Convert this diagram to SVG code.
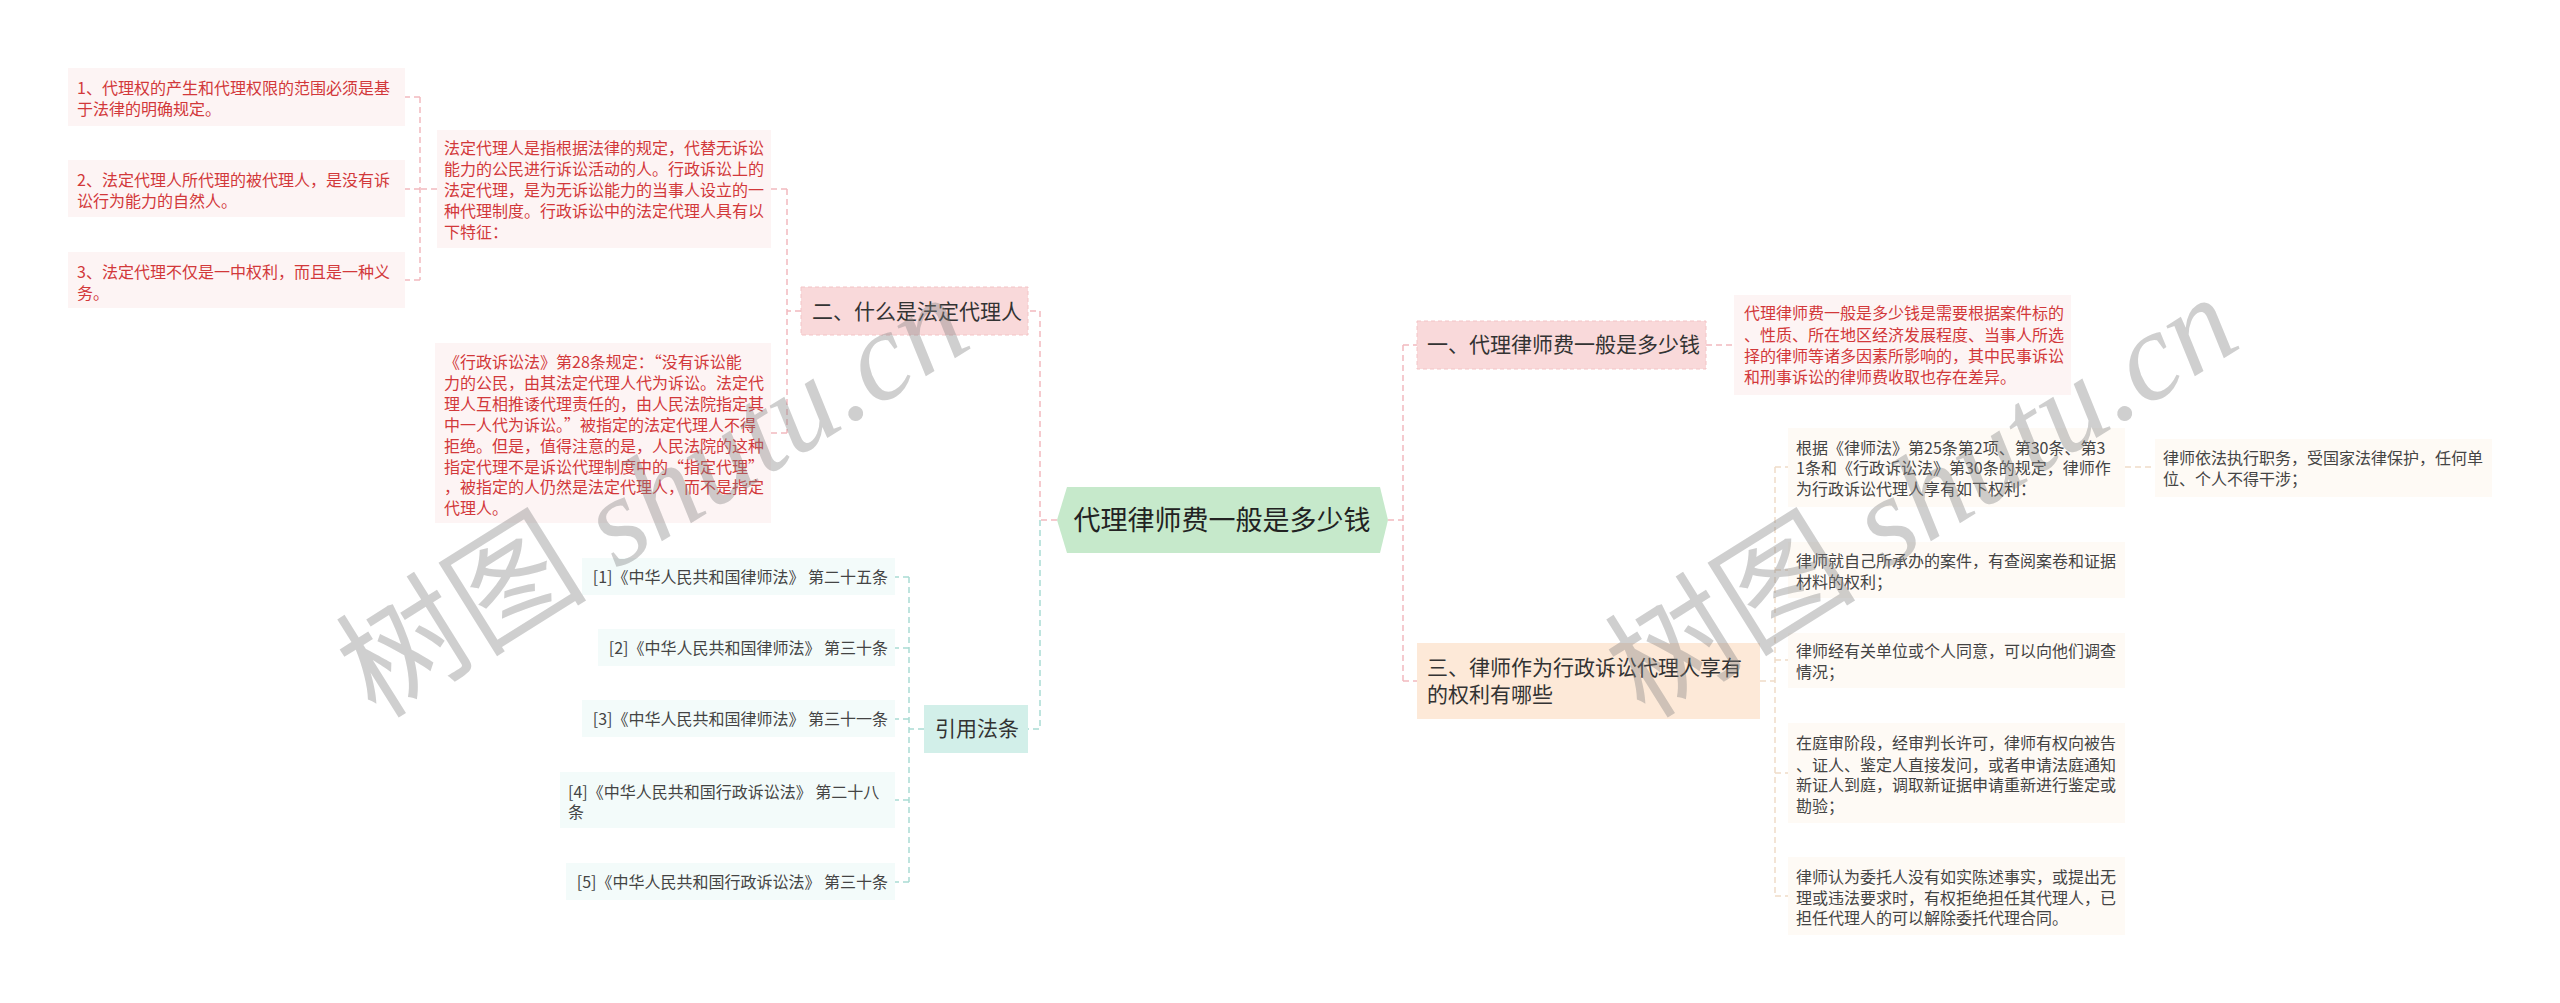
<svg xmlns="http://www.w3.org/2000/svg" width="2560" height="1003" viewBox="0 0 2560 1003">
<style>
text{font-family:"Noto Sans CJK SC","Noto Sans",sans-serif;}
.t16{font-size:16px;}
.t21{font-size:21px;fill:#333;}
.red{fill:#d2383a;}
.dark{fill:#444;}
.pinkbox{fill:#fdf4f4;}
.tealbox{fill:#f3fbfa;}
.peachbox{fill:#fefaf5;}
.pinkmain{fill:#f9d9da;stroke:#f3c4c6;stroke-width:1;stroke-dasharray:4 3;}
.c{fill:none;stroke-width:1.5;stroke-dasharray:6 4;}
.cp{stroke:#f2b9bf;}
.ct{stroke:#a9dcd3;}
.co{stroke:#efdcc8;}
.wm{font-family:"Liberation Serif","Noto Sans CJK SC",serif;font-size:126px;fill:#808080;fill-opacity:0.38;}
</style>

<g id="connectors">
  <path class="c cp" d="M1057,520 H1040 V311 H1028"/>
  <path class="c ct" d="M1040,520 V729 H1028"/>
  <path class="c cp" d="M1388,520 H1403 M1403,345 V681 M1403,345 H1417 M1403,681 H1417"/>
  <path class="c cp" d="M1706,345 H1734"/>
  <path class="c cp" d="M801,311 H787 M787,189 V433 M787,189 H771 M787,433 H771"/>
  <path class="c cp" d="M437,189 H420 M420,97 V280 M420,97 H405 M420,189 H405 M420,280 H405"/>
  <path class="c ct" d="M924,729 H909 M909,577 V882 M909,577 H895 M909,648 H895 M909,719 H895 M909,800 H895 M909,882 H895"/>
  <path class="c co" d="M1760,681 H1775 M1775,467 V896 M1775,467 H1788 M1775,570 H1788 M1775,660 H1788 M1775,773 H1788 M1775,896 H1788"/>
  <path class="c co" d="M2125,467 H2155"/>
</g>

<g id="root">
  <polygon points="1067,487 1380,487 1388,520 1380,553 1067,553 1057,520" fill="#c6e9cb"/>
  <text x="1222" y="530" text-anchor="middle" font-size="27" fill="#222">代理律师费一般是多少钱</text>
</g>

<g id="n-er">
  <rect class="pinkmain" x="801" y="287" width="227" height="48"/>
  <text class="t21" x="812" y="319">二、什么是法定代理人</text>
</g>

<g id="n-fading">
  <rect class="pinkbox" x="437" y="130" width="334" height="118"/>
  <text class="t16 red"><tspan x="444" y="154">法定代理人是指根据法律的规定，代替无诉讼</tspan><tspan x="444" y="175">能力的公民进行诉讼活动的人。行政诉讼上的</tspan><tspan x="444" y="196">法定代理，是为无诉讼能力的当事人设立的一</tspan><tspan x="444" y="217">种代理制度。行政诉讼中的法定代理人具有以</tspan><tspan x="444" y="238">下特征：</tspan></text>
</g>

<g id="n-1">
  <rect class="pinkbox" x="68" y="68" width="337" height="58"/>
  <text class="t16 red"><tspan x="77" y="94">1、代理权的产生和代理权限的范围必须是基</tspan><tspan x="77" y="115">于法律的明确规定。</tspan></text>
</g>
<g id="n-2">
  <rect class="pinkbox" x="68" y="160" width="337" height="57"/>
  <text class="t16 red"><tspan x="77" y="186">2、法定代理人所代理的被代理人，是没有诉</tspan><tspan x="77" y="207">讼行为能力的自然人。</tspan></text>
</g>
<g id="n-3">
  <rect class="pinkbox" x="68" y="252" width="337" height="56"/>
  <text class="t16 red"><tspan x="77" y="278">3、法定代理不仅是一中权利，而且是一种义</tspan><tspan x="77" y="299">务。</tspan></text>
</g>

<g id="n-xingzheng">
  <rect class="pinkbox" x="435" y="343" width="336" height="180"/>
  <text class="t16 red"><tspan x="444" y="368">《行政诉讼法》第28条规定：“没有诉讼能</tspan><tspan x="444" y="389">力的公民，由其法定代理人代为诉讼。法定代</tspan><tspan x="444" y="410">理人互相推诿代理责任的，由人民法院指定其</tspan><tspan x="444" y="431">中一人代为诉讼。”被指定的法定代理人不得</tspan><tspan x="444" y="452">拒绝。但是，值得注意的是，人民法院的这种</tspan><tspan x="444" y="473">指定代理不是诉讼代理制度中的“指定代理”</tspan><tspan x="444" y="493">，被指定的人仍然是法定代理人，而不是指定</tspan><tspan x="444" y="514">代理人。</tspan></text>
</g>

<g id="n-yinyong">
  <rect x="924" y="705" width="104" height="48" fill="#d2efe9"/>
  <text class="t21" x="935" y="736">引用法条</text>
</g>
<g id="n-r1">
  <rect class="tealbox" x="582" y="558" width="313" height="37"/>
  <text class="t16 dark" x="888" y="583" text-anchor="end">[1]《中华人民共和国律师法》 第二十五条</text>
</g>
<g id="n-r2">
  <rect class="tealbox" x="598" y="629" width="297" height="37"/>
  <text class="t16 dark" x="888" y="654" text-anchor="end">[2]《中华人民共和国律师法》 第三十条</text>
</g>
<g id="n-r3">
  <rect class="tealbox" x="582" y="700" width="313" height="37"/>
  <text class="t16 dark" x="888" y="725" text-anchor="end">[3]《中华人民共和国律师法》 第三十一条</text>
</g>
<g id="n-r4">
  <rect class="tealbox" x="560" y="772" width="335" height="56"/>
  <text class="t16 dark"><tspan x="568" y="798">[4]《中华人民共和国行政诉讼法》 第二十八</tspan><tspan x="568" y="818">条</tspan></text>
</g>
<g id="n-r5">
  <rect class="tealbox" x="566" y="863" width="329" height="37"/>
  <text class="t16 dark" x="888" y="888" text-anchor="end">[5]《中华人民共和国行政诉讼法》 第三十条</text>
</g>

<g id="n-yi">
  <rect class="pinkmain" x="1417" y="321" width="289" height="48"/>
  <text class="t21" x="1427" y="352">一、代理律师费一般是多少钱</text>
</g>
<g id="n-yi-1">
  <rect class="pinkbox" x="1734" y="295" width="337" height="100"/>
  <text class="t16 red"><tspan x="1744" y="319">代理律师费一般是多少钱是需要根据案件标的</tspan><tspan x="1744" y="341">、性质、所在地区经济发展程度、当事人所选</tspan><tspan x="1744" y="362">择的律师等诸多因素所影响的，其中民事诉讼</tspan><tspan x="1744" y="383">和刑事诉讼的律师费收取也存在差异。</tspan></text>
</g>

<g id="n-san">
  <rect x="1417" y="643" width="343" height="76" fill="#fde9d8"/>
  <text class="t21"><tspan x="1427" y="675">三、律师作为行政诉讼代理人享有</tspan><tspan x="1427" y="702">的权利有哪些</tspan></text>
</g>
<g id="n-s1">
  <rect class="peachbox" x="1788" y="428" width="337" height="79"/>
  <text class="t16 dark"><tspan x="1796" y="454">根据《律师法》第25条第2项、第30条、第3</tspan><tspan x="1796" y="474">1条和《行政诉讼法》第30条的规定，律师作</tspan><tspan x="1796" y="495">为行政诉讼代理人享有如下权利：</tspan></text>
</g>
<g id="n-s1-1">
  <rect class="peachbox" x="2155" y="439" width="337" height="58"/>
  <text class="t16 dark"><tspan x="2163" y="464">律师依法执行职务，受国家法律保护，任何单</tspan><tspan x="2163" y="485">位、个人不得干涉；</tspan></text>
</g>
<g id="n-s2">
  <rect class="peachbox" x="1788" y="542" width="337" height="56"/>
  <text class="t16 dark"><tspan x="1796" y="567">律师就自己所承办的案件，有查阅案卷和证据</tspan><tspan x="1796" y="588">材料的权利；</tspan></text>
</g>
<g id="n-s3">
  <rect class="peachbox" x="1788" y="633" width="337" height="55"/>
  <text class="t16 dark"><tspan x="1796" y="657">律师经有关单位或个人同意，可以向他们调查</tspan><tspan x="1796" y="678">情况；</tspan></text>
</g>
<g id="n-s4">
  <rect class="peachbox" x="1788" y="723" width="337" height="100"/>
  <text class="t16 dark"><tspan x="1796" y="749">在庭审阶段，经审判长许可，律师有权向被告</tspan><tspan x="1796" y="771">、证人、鉴定人直接发问，或者申请法庭通知</tspan><tspan x="1796" y="791">新证人到庭，调取新证据申请重新进行鉴定或</tspan><tspan x="1796" y="812">勘验；</tspan></text>
</g>
<g id="n-s5">
  <rect class="peachbox" x="1788" y="857" width="337" height="78"/>
  <text class="t16 dark"><tspan x="1796" y="883">律师认为委托人没有如实陈述事实，或提出无</tspan><tspan x="1796" y="904">理或违法要求时，有权拒绝担任其代理人，已</tspan><tspan x="1796" y="924">担任代理人的可以解除委托代理合同。</tspan></text>
</g>

<g id="watermarks">
  <text class="wm" transform="translate(376,720) rotate(-32)">树图 <tspan font-style="italic">shutu.cn</tspan></text>
  <text class="wm" transform="translate(1645,720) rotate(-32)">树图 <tspan font-style="italic">shutu.cn</tspan></text>
</g>
</svg>
